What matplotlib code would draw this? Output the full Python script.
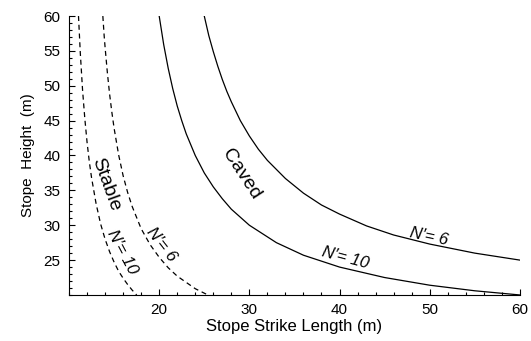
import matplotlib
matplotlib.use("Agg")
import matplotlib.pyplot as plt
from matplotlib.ticker import MultipleLocator

plt.rcParams['font.family'] = ['Liberation Sans', 'DejaVu Sans']

# values (strike length L, height H)
caved6_L = [25, 25.5, 26, 26.5, 27, 27.5, 28, 29, 30, 31, 32, 34, 36, 38, 40, 43, 46, 50, 55, 60]
caved6_H = [60.0, 57.2, 54.9, 52.8, 50.9, 49.2, 47.7, 45.0, 42.8, 40.9, 39.3, 36.7, 34.6, 32.9,
            31.6, 29.9, 28.6, 27.3, 26.0, 25.0]

caved10_L = [20, 20.5, 21, 21.5, 22, 22.5, 23, 24, 25, 26, 27, 28, 30, 33, 36, 40, 45, 50, 55, 60]
caved10_H = [60.0, 55.9, 52.5, 49.6, 47.1, 45.0, 43.1, 40.0, 37.5, 35.5, 33.8, 32.3, 30.0, 27.5,
             25.7, 24.0, 22.5, 21.4, 20.6, 20.0]

stable6_L = [13.75, 13.9, 14, 14.25, 14.5, 14.75, 15, 15.5, 16, 16.5, 17, 18, 19, 20, 21, 22, 23, 24, 25.4]
stable6_H = [60.0, 57.1, 55.5, 51.9, 48.8, 46.2, 43.9, 40.1, 37.1, 34.7, 32.7, 29.5, 27.2, 25.4,
             23.9, 22.7, 21.8, 20.9, 20.0]

stable10_L = [11.05, 11.25, 11.5, 11.75, 12, 12.25, 12.5, 13, 13.5, 14, 14.5, 15, 15.5, 16, 16.5, 17, 17.5]
stable10_H = [60.0, 54.7, 49.4, 45.3, 41.9, 39.1, 36.8, 33.1, 30.2, 28.0, 26.2, 24.7, 23.4, 22.4,
              21.5, 20.7, 20.0]

fig = plt.figure(figsize=(5.31, 3.41), dpi=100)
ax = fig.add_axes([0.130, 0.135, 0.849, 0.818])

ax.plot(caved6_L, caved6_H, color='black', lw=0.9)
ax.plot(caved10_L, caved10_H, color='black', lw=0.9)
ax.plot(stable6_L, stable6_H, color='black', lw=0.9, ls=(0, (4, 3)))
ax.plot(stable10_L, stable10_H, color='black', lw=0.9, ls=(0, (4, 3)))

ax.set_xlim(10, 60)
ax.set_ylim(20, 60)
ax.set_xticks([20, 30, 40, 50, 60])
ax.set_yticks([25, 30, 35, 40, 45, 50, 55, 60])
ax.xaxis.set_minor_locator(MultipleLocator(2))
ax.yaxis.set_minor_locator(MultipleLocator(1))
ax.tick_params(which='both', direction='in', labelsize=11, width=0.8, pad=6)
ax.tick_params(which='major', length=4)
ax.tick_params(which='minor', length=2)
for s in ['top', 'right']:
    ax.spines[s].set_visible(False)

ax.set_xlabel("Stope Strike Length (m)", fontsize=12, labelpad=1)
ax.set_ylabel("Stope  Height  (m)", fontsize=11, labelpad=6)

ax.text(14.1, 35.9, "Stable", fontsize=14, rotation=-70, ha='center', va='center')
ax.text(29.1, 37.3, "Caved", fontsize=14, rotation=-57, ha='center', va='center')
ax.text(15.9, 26.1, "N\u2032= 10", fontsize=12, rotation=-62, ha='center', va='center', style='italic')
ax.text(20.2, 27.3, "N\u2032= 6", fontsize=12, rotation=-52, ha='center', va='center', style='italic')
ax.text(49.9, 28.4, "N\u2032= 6", fontsize=12, rotation=-12, ha='center', va='center', style='italic')
ax.text(40.6, 25.3, "N\u2032= 10", fontsize=12, rotation=-15, ha='center', va='center', style='italic')

fig.savefig("out.png", dpi=100)
